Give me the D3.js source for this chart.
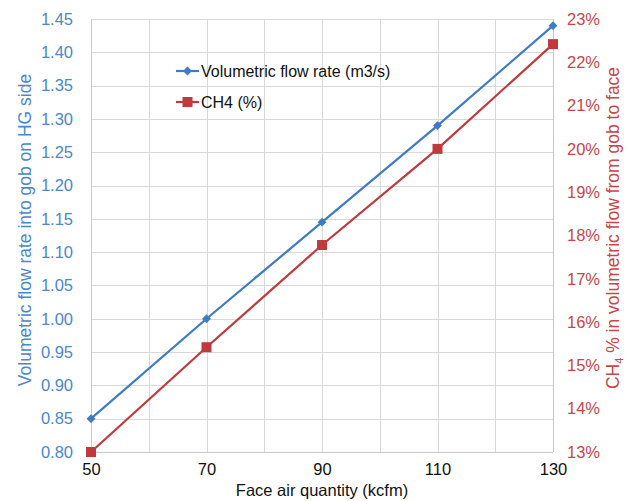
<!DOCTYPE html>
<html>
<head>
<meta charset="utf-8">
<script src="https://cdn.jsdelivr.net/npm/d3@7"></script>
<style>
  html, body { margin: 0; padding: 0; background: #fff; }
  text { font-family: "Liberation Sans", Arial, sans-serif; }
</style>
</head>
<body>
<svg id="chart" width="630" height="501"></svg>
<script>
const faceAir = [50, 70, 90, 110, 130];
const flowRate = [0.85, 1.00, 1.145, 1.29, 1.44];
const ch4Pct = [13.0, 15.42, 17.78, 20.0, 22.42];
const xTicks = [50, 70, 90, 110, 130];
const xGrid = [50, 60, 70, 80, 90, 100, 110, 120, 130];
const leftTicks = d3.range(0, 14).map(i => +(0.80 + i * 0.05).toFixed(2));
const rightTicks = d3.range(13, 24);
const seriesNames = ["Volumetric flow rate (m3/s)", "CH4 (%)"];

const blue = "#3d7cc4", red = "#c0393d";
const blueText = "#4a88cc", redText = "#c9454a";

const svg = d3.select("#chart");
const m = { left: 91, right: 553, top: 19, bottom: 452 };

const x = d3.scaleLinear().domain([50, 130]).range([m.left, m.right]);
const yL = d3.scaleLinear().domain([0.80, 1.45]).range([m.bottom, m.top]);
const yR = d3.scaleLinear().domain([13, 23]).range([m.bottom, m.top]);

// gridlines
const grid = svg.append("g");
grid.selectAll("line.h").data(leftTicks).join("line")
  .attr("x1", m.left).attr("x2", m.right)
  .attr("y1", d => Math.round(yL(d)) + 0.5).attr("y2", d => Math.round(yL(d)) + 0.5)
  .attr("stroke", "#d9d9d9").attr("stroke-width", 1);
grid.selectAll("line.v").data(xGrid).join("line")
  .attr("y1", m.top).attr("y2", m.bottom)
  .attr("x1", d => Math.round(x(d)) + 0.5).attr("x2", d => Math.round(x(d)) + 0.5)
  .attr("stroke", d => (d === 50 || d === 130) ? "#c8c8c8" : "#d9d9d9").attr("stroke-width", 1);
svg.append("line").attr("x1", m.left).attr("x2", m.right)
  .attr("y1", m.bottom + 0.5).attr("y2", m.bottom + 0.5).attr("stroke", "#c8c8c8");

// axes
const fs = 16;
const axL = svg.append("g").attr("transform", `translate(${m.left},0)`)
  .call(d3.axisLeft(yL).tickValues(leftTicks).tickFormat(d3.format(".2f")).tickSize(0).tickPadding(18));
axL.select(".domain").remove();
axL.selectAll("text").attr("fill", blueText).style("font-size", "16.5px")
  .style("font-family", "Liberation Sans, Arial, sans-serif");

const axR = svg.append("g").attr("transform", `translate(${m.right},0)`)
  .call(d3.axisRight(yR).tickValues(rightTicks).tickFormat(d => d + "%").tickSize(0).tickPadding(14));
axR.select(".domain").remove();
axR.selectAll("text").attr("fill", redText).style("font-size", "16.5px")
  .style("font-family", "Liberation Sans, Arial, sans-serif");

const axB = svg.append("g").attr("transform", `translate(0,${m.bottom})`)
  .call(d3.axisBottom(x).tickValues(xTicks).tickFormat(d3.format("d")).tickSize(0).tickPadding(11));
axB.select(".domain").remove();
axB.selectAll("text").attr("fill", "#111").style("font-size", "16.5px")
  .style("font-family", "Liberation Sans, Arial, sans-serif");

// titles
svg.append("text").attr("x", (m.left + m.right) / 2).attr("y", 496)
  .attr("text-anchor", "middle").attr("fill", "#111").style("font-size", "16.5px")
  .text("Face air quantity (kcfm)");

svg.append("text").attr("transform", "translate(31,230) rotate(-90)")
  .attr("text-anchor", "middle").attr("fill", blueText).style("font-size", "17.5px")
  .text("Volumetric flow rate into gob on HG side");

const rt = svg.append("text").attr("transform", "translate(619,228) rotate(-90)")
  .attr("text-anchor", "middle").attr("fill", redText).style("font-size", "17.5px");
rt.append("tspan").text("CH");
rt.append("tspan").attr("dy", 4).style("font-size", "11px").text("4");
rt.append("tspan").attr("dy", -4).text(" % in volumetric flow from gob to face");

// lines
const data = faceAir.map((f, i) => ({ f, v: flowRate[i], c: ch4Pct[i] }));
svg.append("path").datum(data)
  .attr("d", d3.line().x(d => x(d.f)).y(d => yL(d.v)))
  .attr("fill", "none").attr("stroke", blue).attr("stroke-width", 2.2);
svg.append("path").datum(data)
  .attr("d", d3.line().x(d => x(d.f)).y(d => yR(d.c)))
  .attr("fill", "none").attr("stroke", red).attr("stroke-width", 2.2);

const diamond = d3.symbol().type(d3.symbolDiamond2).size(50);
svg.selectAll("path.dm").data(data).join("path")
  .attr("transform", d => `translate(${x(d.f)},${yL(d.v)})`)
  .attr("d", diamond()).attr("fill", blue);
svg.selectAll("rect.sq").data(data).join("rect")
  .attr("x", d => x(d.f) - 5).attr("y", d => yR(d.c) - 5)
  .attr("width", 10).attr("height", 10).attr("fill", red);

// legend
const lg = svg.append("g");
const ly = [71, 102];
lg.append("line").attr("x1", 176).attr("x2", 199).attr("y1", ly[0]).attr("y2", ly[0])
  .attr("stroke", blue).attr("stroke-width", 2.2);
lg.append("path").attr("transform", `translate(187.5,${ly[0]})`).attr("d", diamond()).attr("fill", blue);
lg.append("text").attr("x", 201).attr("y", ly[0] + 6).attr("fill", "#111")
  .style("font-size", fs + "px").text(seriesNames[0]);
lg.append("line").attr("x1", 176).attr("x2", 199).attr("y1", ly[1]).attr("y2", ly[1])
  .attr("stroke", red).attr("stroke-width", 2.2);
lg.append("rect").attr("x", 182.5).attr("y", ly[1] - 5).attr("width", 10).attr("height", 10).attr("fill", red);
lg.append("text").attr("x", 201).attr("y", ly[1] + 6).attr("fill", "#111")
  .style("font-size", fs + "px").text(seriesNames[1]);
</script>
</body>
</html>
